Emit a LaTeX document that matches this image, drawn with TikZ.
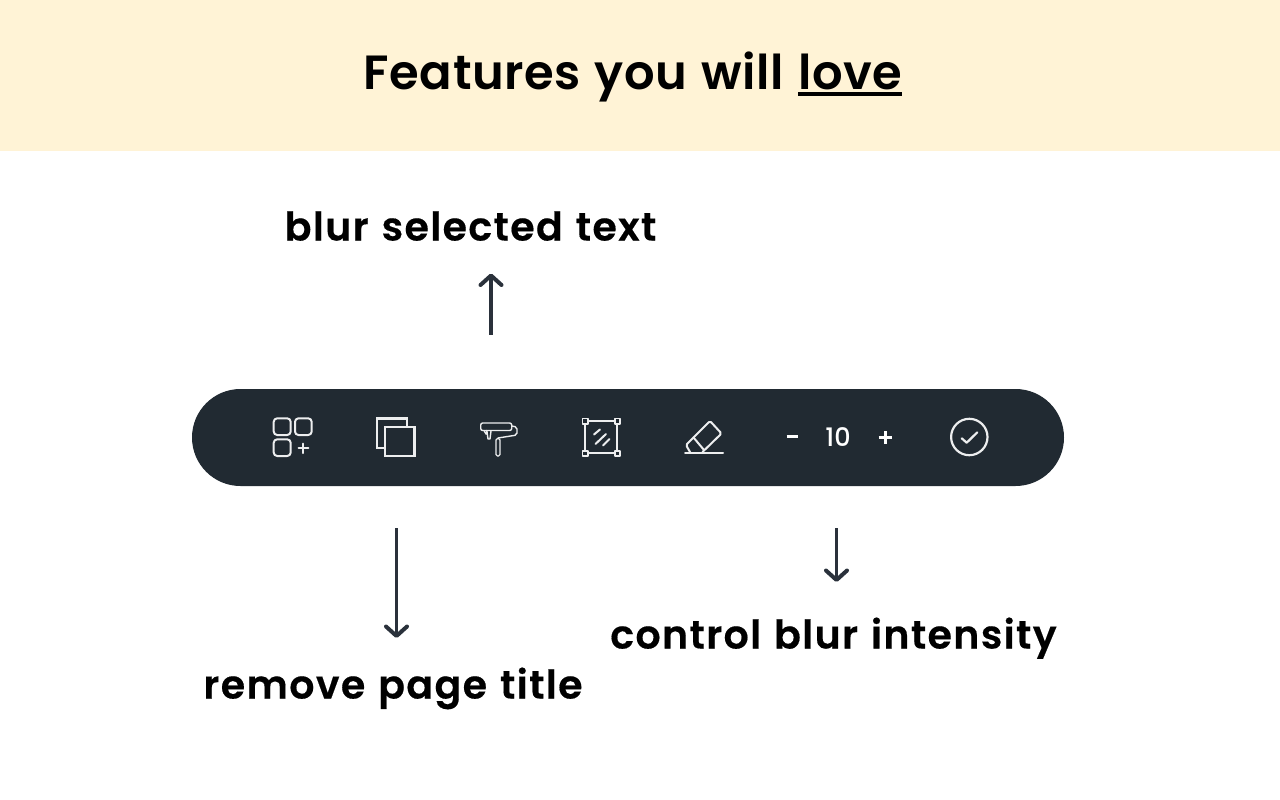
\documentclass[tikz,border=0pt]{standalone}
\usepackage{fontspec}
\setmainfont{Poppins}[UprightFont=* SemiBold,BoldFont=* SemiBold]
\newfontfamily\popreg{Poppins Medium}
\newfontfamily\poptitle{Poppins SemiBold}[LetterSpace=1.1,WordSpace=1.2]
\newfontfamily\poplabel{Poppins SemiBold}[LetterSpace=3.5,WordSpace=1.2,FakeBold=0.4]
\usetikzlibrary{arrows.meta}
\definecolor{banner}{HTML}{FFF3D6}
\definecolor{barc}{HTML}{212A32}
\definecolor{arrowc}{HTML}{2A313B}
\newbox\ulbox
\newcommand{\ulword}[1]{\setbox\ulbox\hbox{#1}\rlap{\smash{\rule[-6.5pt]{\wd\ulbox}{4pt}}}\box\ulbox}
\tikzset{
  label/.style={inner sep=0pt,text=black,font=\poplabel\fontsize{39.5}{46}\selectfont,anchor=base},
  pointer/.style={draw=arrowc,line width=3.8pt,-{Straight Barb[length=9.5pt,width=21pt,line width=4pt,round]}},
  icon/.style={draw=white!92!barc,line width=2pt,line join=round,line cap=round},
  iconthick/.style={draw=white,line width=3pt},
}
\begin{document}
\begin{tikzpicture}[x=1pt,y=-1pt]
\useasboundingbox (0,0) rectangle (1280,800);
\fill[white] (0,0) rectangle (1280,800);
\fill[banner] (0,0) rectangle (1280,150.5);
\node[label,font=\poptitle\fontsize{48}{58}\selectfont] (title) at (633,89.5) {Features you will \ulword{love}};
\node[label] (blur) at (470.5,240.5) {blur selected text};
\node[label] (remove) at (393,698.5) {remove page title};
\node[label] (control) at (833.5,648.5) {control blur intensity};
\node[draw=none,fill=barc,rounded corners=48.5pt,minimum width=872pt,minimum height=97pt,inner sep=0pt] (bar) at (628,437.5) {};
% pointers
\coordinate (a1s) at (491,334.5); \coordinate (a1e) at (491,273.5);
\coordinate (a2s) at (396.5,528); \coordinate (a2e) at (396.5,638);
\coordinate (a3s) at (836.5,528); \coordinate (a3e) at (836.5,582);
\draw[pointer] (a1s) -- (a1e);
\draw[pointer] (a2s) -- (a2e);
\draw[pointer] (a3s) -- (a3e);
% icon 1
\draw[icon,rounded corners=3.5pt] (273.7,418.3) rectangle (290.7,435);
\draw[icon,rounded corners=3.5pt] (295,418.3) rectangle (311.7,435);
\draw[icon,rounded corners=3.5pt] (273.7,439.3) rectangle (290.7,456);
\draw[icon] (298.5,448.3) -- (308.3,448.3) (303.4,443.5) -- (303.4,453.2);
% icon 2
\draw[icon,line width=2.4pt,line join=miter] (376.7,418.3) rectangle (406.7,447.7);
\draw[icon,line width=2.4pt,line join=miter,fill=barc] (385,426.7) rectangle (414.3,456);
% icon 3 roller
\draw[icon,line width=1.4pt,rounded corners=2pt] (480.7,423) rectangle (511.7,430.5);
\draw[icon,line width=1.4pt,rounded corners=2pt] (511.7,426) -- (517,427) -- (517,435) -- (498,438);
\draw[icon,line width=1.4pt,rounded corners=1.5pt] (496,438.5) rectangle (500,456);
\draw[icon,line width=1.4pt] (484,430.5) -- (486,434) -- (487,431.5) -- (486.5,430.5) (487,431.5) -- (488,439) -- (490,439) -- (491,431);
% icon 4
\draw[icon,line join=miter] (585,421) rectangle (617.3,453.3);
\foreach \px/\py in {585/421,617.3/421,585/453.3,617.3/453.3}{
  \draw[icon,line width=1.8pt,fill=barc] (\px-2.6,\py-2.6) rectangle (\px+2.6,\py+2.6);
}
\draw[icon] (594,434.5) -- (600,429.5) (595.5,444) -- (606,434) (603,445.5) -- (609.5,439);
% icon 5
\draw[icon] (685,452.7) -- (723,452.7);
\draw[icon,rounded corners=1.5pt] (690,452) -- (686,445) -- (710,421) -- (721.5,433.5) -- (702.5,452);
\draw[icon] (693.5,437.5) -- (704,450);
% minus 10 plus
\draw[iconthick] (786.7,436.7) -- (797.5,436.7);
\node[inner sep=0pt,text=white,font=\popreg\fontsize{25.5}{30}\selectfont,anchor=base] (num) at (838,446.5) {10};
\draw[iconthick] (878.5,437.3) -- (891.5,437.3) (885,431) -- (885,444);
% check
\draw[icon,line width=2.2pt] (969.3,437) circle (18.2pt);
\draw[icon,line width=2.2pt] (961.7,438.3) -- (966.7,442.7) -- (977.3,432.3);
\end{tikzpicture}
\end{document}
